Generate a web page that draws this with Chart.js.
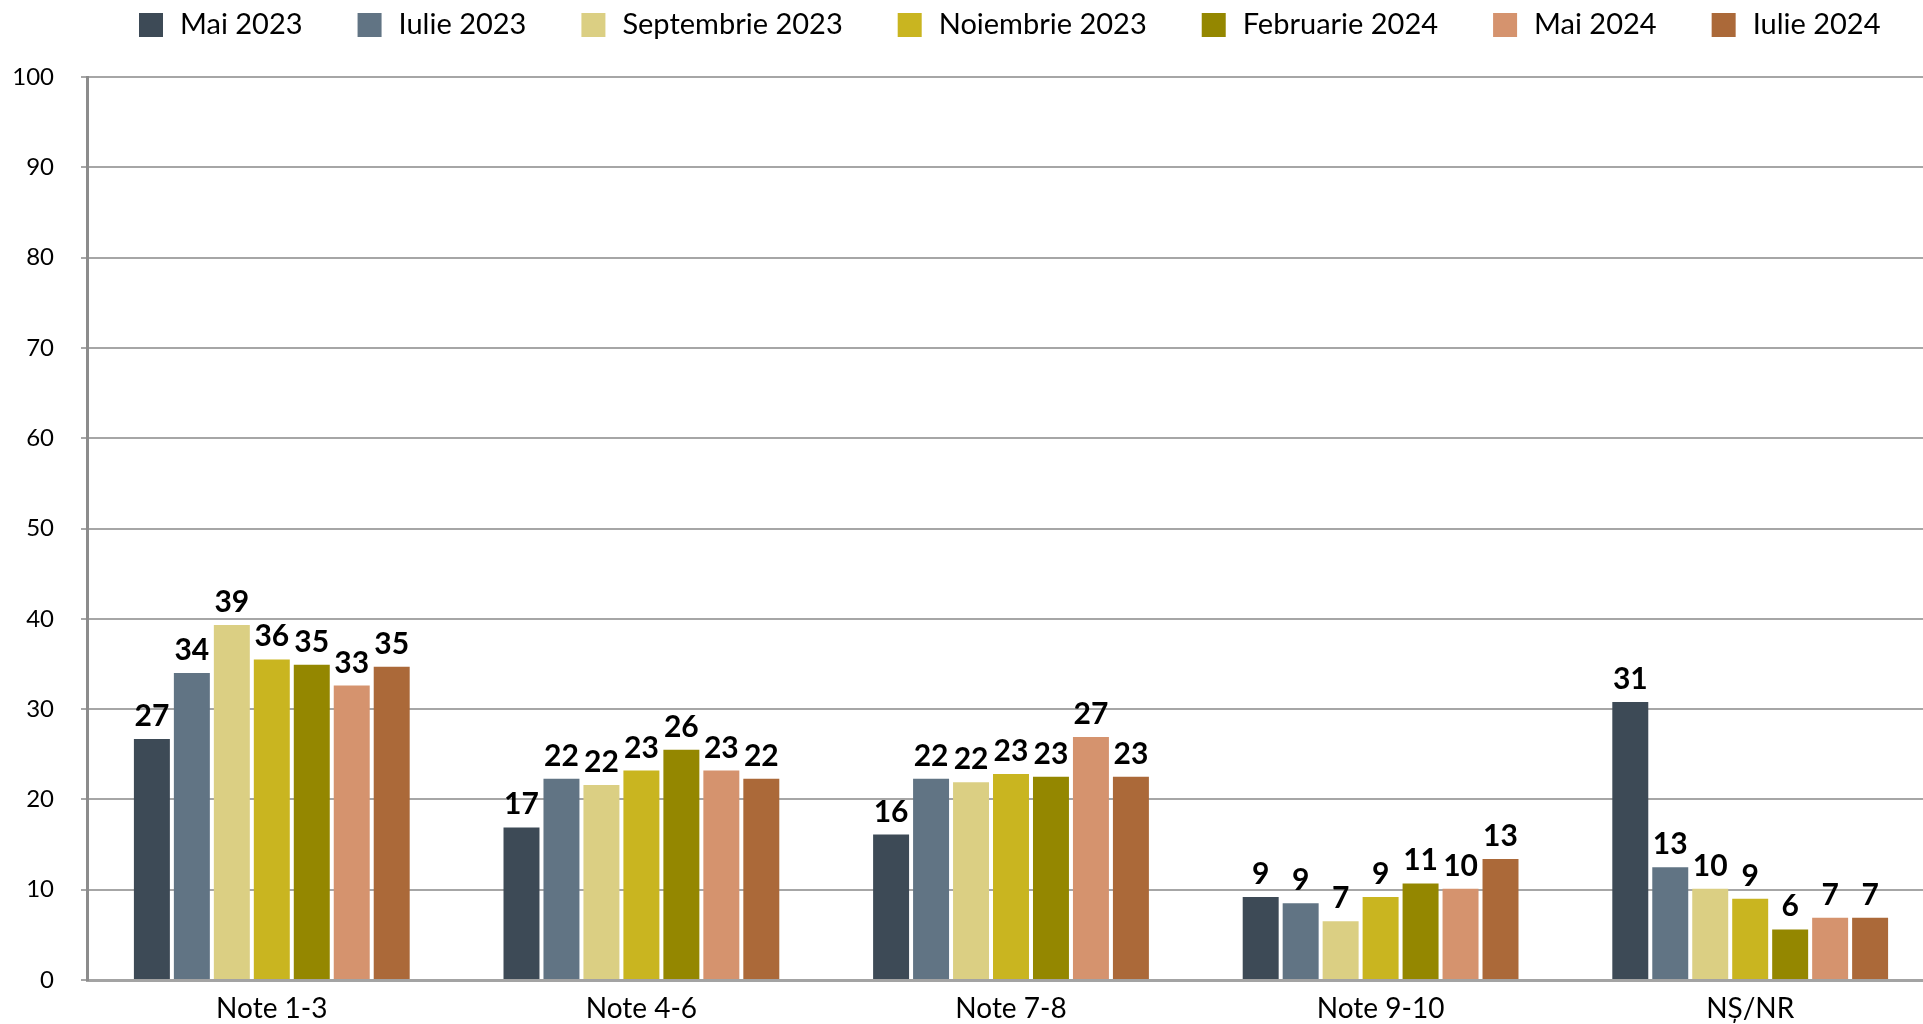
<!DOCTYPE html>
<html lang="ro">
<head>
<meta charset="utf-8">
<title>Note</title>
<script src="https://cdn.jsdelivr.net/npm/chart.js@4/dist/chart.umd.min.js"></script>
<style>
  html, body { margin: 0; padding: 0; background: #fff; overflow: hidden; }
  /* canvasul e putin mai lat decat fereastra: zona graficului e taiata la dreapta, ca in original */
  #wrap { width: 1923px; height: 1024px; position: relative; overflow: hidden; }
</style>
</head>
<body>
<div id="wrap"><canvas id="notesChart" width="1935" height="1024"></canvas></div>
<script>
// Categorii si serii (procente)
const categories = ['Note 1-3', 'Note 4-6', 'Note 7-8', 'Note 9-10', 'N\u0218/NR'];
const seriesNames = ['Mai 2023', 'Iulie 2023', 'Septembrie 2023', 'Noiembrie 2023', 'Februarie 2024', 'Mai 2024', 'Iulie 2024'];
const mai2023 = [26.7, 16.9, 16.1, 9.2, 30.8];
const iulie2023 = [34.0, 22.3, 22.3, 8.5, 12.5];
const septembrie2023 = [39.3, 21.6, 21.9, 6.5, 10.1];
const noiembrie2023 = [35.5, 23.2, 22.8, 9.2, 9.0];
const februarie2024 = [34.9, 25.5, 22.5, 10.7, 5.6];
const mai2024 = [32.6, 23.2, 26.9, 10.1, 6.9];
const iulie2024 = [34.7, 22.3, 22.5, 13.4, 6.9];
const yTicks = [0, 10, 20, 30, 40, 50, 60, 70, 80, 90, 100];

const seriesValues = [mai2023, iulie2023, septembrie2023, noiembrie2023, februarie2024, mai2024, iulie2024];
const colors = ['#3d4a56', '#617484', '#dbcf83', '#c9b520', '#948700', '#d5936e', '#ab6939'];
const fontFamily = 'Lato, "Noto Sans", sans-serif';

// Etichete deasupra barelor
const valueLabels = {
    id: 'valueLabels',
    afterDatasetsDraw(chart) {
        const ctx = chart.ctx;
        ctx.save();
        ctx.font = 'bold 30px ' + fontFamily;
        ctx.fillStyle = '#000';
        ctx.textAlign = 'center';
        ctx.textBaseline = 'alphabetic';
        chart.data.datasets.forEach((ds, i) => {
            chart.getDatasetMeta(i).data.forEach((bar, j) => {
                ctx.fillText(String(Math.round(ds.data[j])), bar.x, bar.y - 13);
            });
        });
        ctx.restore();
    }
};

// Legenda desenata manual (spatiere ca in original)
const topLegend = {
    id: 'topLegend',
    afterDraw(chart) {
        const ctx = chart.ctx;
        ctx.save();
        ctx.font = '29px ' + fontFamily;
        ctx.textBaseline = 'middle';
        let x = 139;
        chart.data.datasets.forEach(ds => {
            ctx.fillStyle = ds.backgroundColor;
            ctx.fillRect(x, 13, 24, 24);
            ctx.fillStyle = '#000';
            ctx.fillText(ds.label, x + 24 + 17, 25);
            x += 24 + 17 + ctx.measureText(ds.label).width + 55;
        });
        ctx.restore();
    }
};

const ctxNotes = document.getElementById('notesChart').getContext('2d');
const notesChart = new Chart(ctxNotes, {
    type: 'bar',
    data: {
        labels: categories,
        datasets: seriesNames.map((name, i) => ({
            label: name,
            data: seriesValues[i],
            backgroundColor: colors[i],
            borderWidth: 0,
            categoryPercentage: 0.757,
            barPercentage: 0.9
        }))
    },
    options: {
        responsive: false,
        animation: false,
        layout: { padding: { top: 77, left: 0, right: 0, bottom: 0 } },
        scales: {
            x: {
                afterFit(axis) { axis.height = 44; },
                grid: { display: false, drawTicks: false },
                border: { display: true, color: '#a3a3a3', width: 3 },
                ticks: { color: '#000', font: { family: fontFamily, size: 28 }, padding: 12 }
            },
            y: {
                min: 0,
                max: 100,
                afterBuildTicks(axis) {
                    axis.ticks = yTicks.map(v => ({ value: v }));
                },
                afterFit(axis) { axis.width = 87; },
                grid: { color: '#a6a6a6', lineWidth: 2, tickLength: 6 },
                border: { display: true, color: '#8c8c8c', width: 3 },
                ticks: { color: '#000', font: { family: fontFamily, size: 24 }, padding: 27 }
            }
        },
        plugins: {
            legend: { display: false },
            tooltip: { enabled: false }
        }
    },
    plugins: [valueLabels, topLegend]
});
</script>
</body>
</html>
